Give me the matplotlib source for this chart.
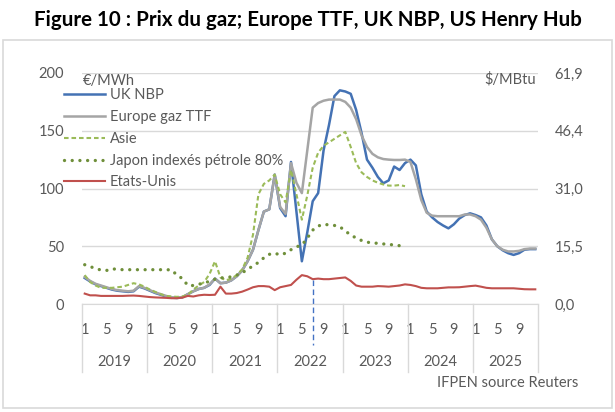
import numpy as np
import matplotlib.pyplot as plt
from matplotlib.patches import Rectangle

plt.rcParams['font.family'] = ['Lato', 'DejaVu Sans']

# Monthly data, Jan 2019 -> Dec 2025 (EUR/MWh)
years = ['2019', '2020', '2021', '2022', '2023', '2024', '2025']
month_ticks = ['1', '5', '9']

uk_nbp = [22.5, 19.5, 17, 15.5, 14, 12.5, 11.5, 11, 10.5, 11, 15, 13.5,
          11.5, 9.5, 8, 6.5, 5.5, 5.2, 5.8, 8.5, 11, 13, 14, 16.5,
          22, 18, 18.5, 20.5, 24, 29, 37, 47, 64, 80, 82, 112,
          83, 76, 123, 80, 37, 62, 89, 96, 133, 155, 180, 185,
          184, 182, 168, 148, 125, 118, 110, 104.5, 107, 119, 116, 122,
          125, 120, 95, 80, 75, 71, 68, 65.5, 69, 74, 77, 78.5,
          77, 75, 68, 56, 50, 46.5, 44, 42.5, 44, 47, 47.5, 47.5]

ttf = [23.5, 20, 17.5, 16, 14.5, 13, 12, 11.5, 11, 11.5, 15.5, 14,
       12, 10, 8.5, 7, 5.8, 5.5, 6, 8.5, 11, 13, 14, 17,
       22, 18, 18.5, 20.5, 24, 29, 37, 47, 64, 80, 82, 112,
       84, 78, 122, 105, 96, 133, 170, 174, 176, 177, 177, 177,
       175, 170, 160, 146, 136, 130, 127, 125.5, 125, 124.7, 124.7, 125,
       123, 108, 90, 79, 76.5, 76, 76, 76, 76, 76, 77.5, 77.5,
       76, 73, 66, 56, 50, 47, 45.5, 45.5, 46, 47.5, 48, 48]

asie = [25, 19, 16, 14, 14, 14, 14.5, 15, 16.5, 18, 17, 15,
        12.5, 10.5, 8.5, 7, 6.5, 6.2, 6.5, 8, 12.5, 16, 19, 26,
        37, 23, 20.5, 22, 25, 30, 40, 60, 95, 104, 107, 112,
        95, 88, 116, 95, 73, 94, 118, 131, 137, 140, 143, 146,
        149, 136, 122, 114, 110, 107, 105, 103.5, 102.5, 102.5, 103, 102]

japon = [34, 32.5, 30.5, 29.5, 29, 30.5, 30, 29.7, 29.7, 29.7, 29.7, 29.7,
         29.7, 29.7, 29.7, 29.7, 29.5, 25, 22, 16, 16, 17, 18.5, 19.5,
         21.5, 22.5, 23, 23.5, 25, 27, 30, 33, 36, 40, 43, 44,
         42.5, 44, 47, 49.5, 51, 57, 64, 67.5, 69, 68.5, 68, 67,
         63, 60, 57, 55, 53.5, 53, 52.5, 52, 51.7, 51, 50.5, 50.2]

etats_unis = [9, 7.5, 7.5, 7, 7, 7, 7, 7, 7.2, 7.3, 7, 6.5,
              6, 5.7, 5.5, 5.3, 5, 5, 5.5, 7, 6.5, 7.5, 8, 7.8,
              8, 15, 9, 9, 9.5, 10.7, 12.5, 14.5, 15.5, 15.5, 15, 12,
              14.5, 15.5, 16.5, 21, 25, 24, 21.5, 22, 21.5, 21.5, 22, 22.5,
              23, 20, 16, 15, 15, 15, 15.5, 15.3, 15, 15.5, 16, 17,
              16.5, 15.5, 14, 13.6, 13.6, 13.6, 14, 14.4, 14.4, 14.5, 15, 15.5,
              15.9, 15, 14, 13.6, 13.6, 13.6, 13.6, 13.6, 13.2, 12.8, 12.7, 12.7]

eur_mwh_per_usd_mbtu = 3.2308
today_idx = 42  # juillet 2022

grey_txt = '#595959'
grid_col = '#d9d9d9'

fig = plt.figure(figsize=(6.15, 4.12), dpi=100)
fig.patches.append(Rectangle((3 / 615, 4 / 412), 609 / 615, 368 / 412,
                             transform=fig.transFigure, fill=False,
                             edgecolor=grid_col, linewidth=1.2))
fig.text(0.5, 1 - 20 / 412, 'Figure 10 : Prix du gaz; Europe TTF, UK NBP, US Henry Hub',
         ha='center', va='center', fontsize=14.8, fontweight='bold', color='black')

ax = fig.add_axes([82 / 615, 1 - 304 / 412, 456 / 615, 231 / 412])
x = np.arange(len(uk_nbp))

l_nbp, = ax.plot(x, uk_nbp, color='#4472b4', lw=1.8, label='UK NBP')
l_ttf, = ax.plot(x, ttf, color='#a5a5a5', lw=1.8, label='Europe gaz TTF')
l_asie, = ax.plot(np.arange(len(asie)), asie, color='#9bbb59', lw=1.5,
                  linestyle=(0, (2.2, 1.4)), label='Asie')
l_jap, = ax.plot(np.arange(len(japon)), japon, color='#6f8f3a', lw=2.4,
                 linestyle=(0, (0.01, 2.3)), dash_capstyle='round',
                 label='Japon indexés pétrole 80%')
l_us, = ax.plot(x, etats_unis, color='#c0504d', lw=1.5, label='Etats-Unis')

ax.set_xlim(-0.5, len(uk_nbp) - 0.5)
ax.set_ylim(0, 200)
ax.set_yticks([0, 50, 100, 150, 200])
ax.yaxis.grid(True, color=grid_col, lw=1)
ax.set_axisbelow(True)
for s in ['left', 'right', 'top']:
    ax.spines[s].set_visible(False)
ax.spines['bottom'].set_color(grid_col)
ax.tick_params(axis='y', length=0, pad=13, labelsize=10.5, labelcolor=grey_txt)

# mois et années
pos, lab = [], []
for k in range(len(years)):
    for j, m in zip([0, 4, 8], month_ticks):
        pos.append(12 * k + j)
        lab.append(m)
ax.set_xticks(pos)
ax.set_xticklabels(lab)
ax.tick_params(axis='x', length=0, pad=14, labelsize=10.5, labelcolor=grey_txt)
tr = ax.get_xaxis_transform()
for k in range(len(years) + 1):
    ax.plot([12 * k - 0.5] * 2, [0, -0.295], transform=tr, color=grid_col,
            lw=1, clip_on=False)
for k, yr in enumerate(years):
    ax.text(12 * k + 5.5, -0.25, yr, transform=tr, ha='center', va='center',
            fontsize=10.5, color=grey_txt)

# date du jour
ax.plot([today_idx, today_idx], [21, -0.177 * 200], color='#4472c4', lw=1,
        linestyle=(0, (4, 2.5)), clip_on=False)

# axe secondaire en $/MBtu
ax2 = ax.twinx()
ax2.set_ylim(0, 200)
ax2.set_yticks([0, 50, 100, 150, 200])
ax2.set_yticklabels([('%.1f' % (v / eur_mwh_per_usd_mbtu)).replace('.', ',')
                     for v in [0, 50, 100, 150, 200]])
ax2.tick_params(axis='y', length=0, pad=12, labelsize=10.5, labelcolor=grey_txt)
for s in ax2.spines.values():
    s.set_visible(False)

fig.text(83 / 615, 1 - 81 / 412, '€/MWh', ha='left', va='center',
         fontsize=10.5, color=grey_txt)
fig.text(536 / 615, 1 - 79 / 412, '$/MBtu', ha='right', va='center',
         fontsize=10.5, color=grey_txt)
fig.text(578 / 615, 1 - 383 / 412, 'IFPEN source Reuters', ha='right', va='center',
         fontsize=10.5, color=grey_txt)

leg = fig.legend(handles=[l_nbp, l_ttf, l_asie, l_jap, l_us],
                 loc='upper left', bbox_to_anchor=(64 / 615, 1 - 88 / 412),
                 frameon=False, fontsize=10.5, handlelength=2.8,
                 handletextpad=0.35, labelspacing=0.54, borderpad=0,
                 borderaxespad=0)
for t in leg.get_texts():
    t.set_color(grey_txt)

fig.savefig('out.png', dpi=100)
